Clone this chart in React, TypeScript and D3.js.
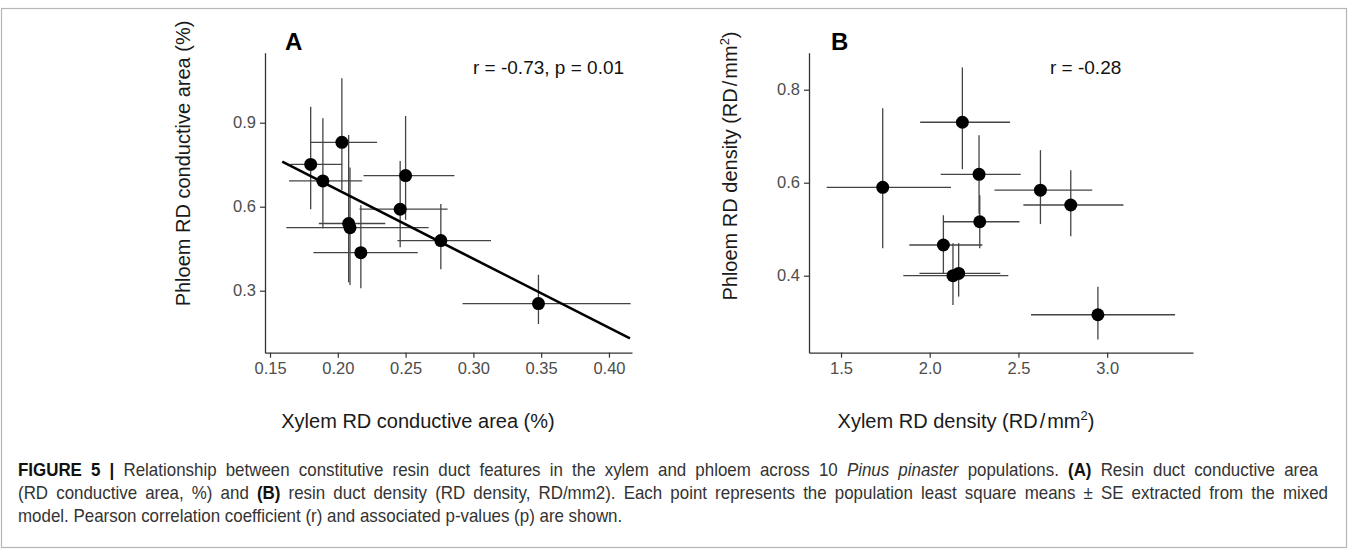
import { useEffect, useRef } from "react";
import * as d3 from "d3";

// panel A: conductive area (xylem vs phloem), lsmeans with SE bars
const aX = [0.180, 0.189, 0.203, 0.208, 0.209, 0.217, 0.246, 0.250, 0.276, 0.348];
const aXLo = [0.165, 0.164, 0.180, 0.186, 0.162, 0.182, 0.216, 0.219, 0.244, 0.292];
const aXHi = [0.203, 0.218, 0.229, 0.235, 0.267, 0.259, 0.281, 0.286, 0.313, 0.416];
const aY = [0.751, 0.692, 0.830, 0.540, 0.525, 0.436, 0.591, 0.711, 0.479, 0.254];
const aYLo = [0.591, 0.523, 0.660, 0.330, 0.320, 0.309, 0.455, 0.553, 0.377, 0.181];
const aYHi = [0.957, 0.916, 1.059, 0.856, 0.740, 0.605, 0.763, 0.924, 0.610, 0.357];
const aFitSlope = -2.46;
const aFitIntercept = 1.152;
const aFitRange = [0.159, 0.4155];
const aXTicks = [0.15, 0.2, 0.25, 0.3, 0.35, 0.4];
const aYTicks = [0.3, 0.6, 0.9];

// panel B: resin duct density
const bX = [1.735, 2.184, 2.278, 2.282, 2.077, 2.131, 2.163, 2.624, 2.795, 2.948];
const bXLo = [1.419, 1.946, 2.062, 2.077, 1.885, 1.851, 1.942, 2.365, 2.528, 2.571];
const bXHi = [2.120, 2.453, 2.513, 2.506, 2.297, 2.443, 2.398, 2.916, 3.092, 3.383];
const bY = [0.590, 0.730, 0.618, 0.516, 0.466, 0.400, 0.405, 0.584, 0.552, 0.316];
const bYLo = [0.459, 0.629, 0.533, 0.459, 0.405, 0.337, 0.355, 0.511, 0.485, 0.263];
const bYHi = [0.760, 0.848, 0.702, 0.573, 0.530, 0.470, 0.470, 0.670, 0.627, 0.376];
const bXTicks = [1.5, 2.0, 2.5, 3.0];
const bYTicks = [0.4, 0.6, 0.8];

const font = "'Liberation Sans', Arial, Helvetica, sans-serif";

function drawPanel(svg, p) {
    const x = d3.scaleLinear().domain(p.xDomain).range(p.xRange);
    const y = d3.scaleLinear().domain(p.yDomain).range([352.7, 52.7]);
    const bottom = 352.7;

    const xAxis = svg.append("g")
        .attr("transform", `translate(0, ${bottom})`)
        .call(d3.axisBottom(x).tickValues(p.xTicks).tickFormat(d3.format(p.xFmt)).tickSize(5).tickSizeOuter(0).tickPadding(5));
    const yAxis = svg.append("g")
        .attr("transform", `translate(${p.xRange[0]}, 0)`)
        .call(d3.axisLeft(y).tickValues(p.yTicks).tickFormat(d3.format(".1f")).tickSize(5).tickSizeOuter(0).tickPadding(4));
    [xAxis, yAxis].forEach(a => {
        a.select(".domain").attr("stroke", "#333").attr("stroke-width", 1.3);
        a.selectAll(".tick line").attr("stroke", "#333").attr("stroke-width", 1.2);
        a.selectAll("text")
            .attr("fill", "#4d4d4d")
            .style("font-family", font)
            .style("font-size", "16.5px");
    });

    const data = p.xs.map((v, i) => ({
        x: v, xlo: p.xlo[i], xhi: p.xhi[i],
        y: p.ys[i], ylo: p.ylo[i], yhi: p.yhi[i]
    }));

    const bars = svg.append("g").attr("stroke", "#444").attr("stroke-width", 1.3);
    bars.selectAll("line.v").data(data).join("line")
        .attr("class", "v")
        .attr("x1", d => x(d.x)).attr("x2", d => x(d.x))
        .attr("y1", d => y(d.ylo)).attr("y2", d => y(d.yhi));
    bars.selectAll("line.h").data(data).join("line")
        .attr("class", "h")
        .attr("x1", d => x(d.xlo)).attr("x2", d => x(d.xhi))
        .attr("y1", d => y(d.y)).attr("y2", d => y(d.y));

    if (p.fit) {
        const line = d3.line().x(d => x(d)).y(d => y(p.fit.intercept + p.fit.slope * d));
        svg.append("path")
            .attr("d", line(p.fit.range))
            .attr("fill", "none")
            .attr("stroke", "#000")
            .attr("stroke-width", 2.6);
    }

    svg.append("g").selectAll("circle").data(data).join("circle")
        .attr("cx", d => x(d.x))
        .attr("cy", d => y(d.y))
        .attr("r", 6.5)
        .attr("fill", "#000");

    // panel letter
    svg.append("text")
        .attr("x", p.letterX).attr("y", 50)
        .style("font-family", font).style("font-size", "24px").style("font-weight", "bold")
        .text(p.letter);

    // correlation text
    svg.append("text")
        .attr("x", p.statX).attr("y", 74)
        .style("font-family", font).style("font-size", "19px")
        .attr("fill", "#111")
        .text(p.stat);
}

function addTitle(svg, t) {
    const txt = svg.append("text")
        .attr("text-anchor", "middle")
        .attr("transform", t.rotate ? `translate(${t.x}, ${t.y}) rotate(-90)` : `translate(${t.x}, ${t.y})`)
        .style("font-family", font).style("font-size", "20px")
        .attr("fill", "#1a1a1a");
    txt.append("tspan").text(t.text);
    if (t.unit) {
        txt.append("tspan").text("(RD");
        txt.append("tspan").attr("dx", 2).text("/");
        txt.append("tspan").attr("dx", 2).text("mm");
        txt.append("tspan").attr("dy", -8).style("font-size", "13px").text("2");
        txt.append("tspan").attr("dy", 8).text(")");
    }
}

const captionLines = [
    [
        ["FIGURE 5 | ", "b"],
        ["Relationship between constitutive resin duct features in the xylem and phloem across 10 ", ""],
        ["Pinus pinaster", "i"],
        [" populations. ", ""],
        ["(A)", "b"],
        [" Resin duct conductive area", ""]
    ],
    [
        ["(RD conductive area, %) and ", ""],
        ["(B)", "b"],
        [" resin duct density (RD density, RD/mm2). Each point represents the population least square means \u00b1 SE extracted from the mixed", ""]
    ],
    [
        ["model. Pearson correlation coefficient (r) and associated p-values (p) are shown.", ""]
    ]
];

export default function App() {
    const svgRef = useRef(null);

    useEffect(() => {
        const svg = d3.select(svgRef.current);
        svg.selectAll("*").remove();

        svg.append("rect")
            .attr("x", 1.5).attr("y", 8.5).attr("width", 1345).attr("height", 539)
            .attr("fill", "none").attr("stroke", "#b5b5b5").attr("stroke-width", 1.2);

        drawPanel(svg, {
            xDomain: [0.1463, 0.417], xRange: [265, 632],
            yDomain: [0.0786, 1.15],
            xTicks: aXTicks, yTicks: aYTicks, xFmt: ".2f",
            xs: aX, xlo: aXLo, xhi: aXHi, ys: aY, ylo: aYLo, yhi: aYHi,
            fit: { slope: aFitSlope, intercept: aFitIntercept, range: aFitRange },
            letter: "A", letterX: 285, stat: "r = -0.73, p = 0.01", statX: 473
        });
        drawPanel(svg, {
            xDomain: [1.3195, 3.484], xRange: [809, 1193],
            yDomain: [0.2344, 0.8796],
            xTicks: bXTicks, yTicks: bYTicks, xFmt: ".1f",
            xs: bX, xlo: bXLo, xhi: bXHi, ys: bY, ylo: bYLo, yhi: bYHi,
            fit: null,
            letter: "B", letterX: 831, stat: "r = -0.28", statX: 1050
        });

        addTitle(svg, { x: 418, y: 428, text: "Xylem RD conductive area (%)" });
        addTitle(svg, { x: 190, y: 163.5, rotate: true, text: "Phloem RD conductive area (%)" });
        addTitle(svg, { x: 966, y: 428, text: "Xylem RD density ", unit: true });
        addTitle(svg, { x: 737, y: 166, rotate: true, text: "Phloem RD density ", unit: true });

        // caption: slightly condensed glyphs, first two lines justified
        const lineY = [476, 499, 522];
        const lineEnd = [1318, 1328, null];
        const sx = 0.93;
        const cap = svg.append("g")
            .style("font-family", font)
            .style("font-size", "18.2px")
            .attr("fill", "#333");
        captionLines.forEach((parts, i) => {
            const t = cap.append("text")
                .attr("x", 0).attr("y", 0)
                .attr("transform", `translate(18, ${lineY[i]}) scale(${sx}, 1)`)
                .style("white-space", "pre");
            parts.forEach(([s, f]) => {
                const ts = t.append("tspan").text(s);
                if (f === "b") ts.style("font-weight", "bold").attr("fill", "#111");
                if (f === "i") ts.style("font-style", "italic");
            });
            if (lineEnd[i] && t.node().getComputedTextLength) {
                const nat = t.node().getComputedTextLength();
                const spaces = parts.map(q => q[0]).join("").split(" ").length - 1;
                const target = (lineEnd[i] - 18) / sx;
                t.style("word-spacing", `${(target - nat) / spaces}px`);
            }
        });
    }, []);

    return (
        <div style={{ position: "absolute", left: 0, top: 0 }}>
            <svg ref={svgRef} width={1355} height={554} style={{ display: "block", background: "#fff" }}></svg>
        </div>
    );
}
